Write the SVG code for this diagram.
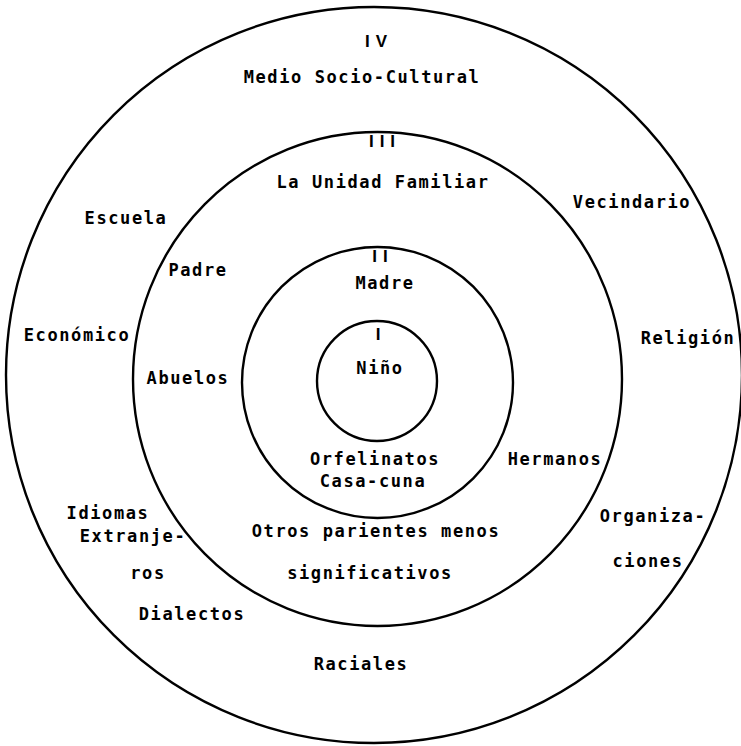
<svg xmlns="http://www.w3.org/2000/svg" width="741" height="746" viewBox="0 0 741 746">
<style>
.ring{fill:none;stroke:#000;stroke-width:2.4}
text{font-family:"DejaVu Sans Mono","Liberation Mono",monospace;font-size:17px;font-weight:bold;letter-spacing:1.6px;fill:#000;text-anchor:middle}
text.num{font-family:"Liberation Sans","DejaVu Sans",sans-serif;letter-spacing:6px}
</style>
<rect width="741" height="746" fill="#fff"/>
<g id="circles">
<ellipse id="ring-IV" class="ring" cx="374" cy="375" rx="368" ry="368"/>
<ellipse id="ring-III" class="ring" cx="377.5" cy="379" rx="244.5" ry="247"/>
<ellipse id="ring-II" class="ring" cx="377.5" cy="382.5" rx="135.5" ry="135.5"/>
<ellipse id="ring-I" class="ring" cx="377" cy="381" rx="60" ry="60"/>
</g>
<g id="level-IV">
<text class="num" x="379" y="47">IV</text>
<text x="362" y="83">Medio Socio-Cultural</text>
<text x="126" y="224">Escuela</text>
<text x="632" y="208">Vecindario</text>
<text x="77" y="341">Económico</text>
<text x="688" y="344">Religión</text>
<text x="108" y="519">Idiomas</text>
<text x="133" y="542">Extranje-</text>
<text x="148" y="579">ros</text>
<text x="653" y="522">Organiza-</text>
<text x="648" y="567">ciones</text>
<text x="192" y="620">Dialectos</text>
<text x="361" y="670">Raciales</text>
</g>
<g id="level-III">
<text class="num" x="385" y="147">III</text>
<text x="383" y="188">La Unidad Familiar</text>
<text x="198" y="276">Padre</text>
<text x="188" y="384">Abuelos</text>
<text x="555" y="465">Hermanos</text>
<text x="376" y="537">Otros parientes menos</text>
<text x="370" y="579">significativos</text>
</g>
<g id="level-II">
<text class="num" x="383" y="262">II</text>
<text x="385" y="289">Madre</text>
<text x="375" y="465">Orfelinatos</text>
<text x="373" y="487">Casa-cuna</text>
</g>
<g id="level-I">
<text class="num" x="381" y="340">I</text>
<text x="380" y="374">Niño</text>
</g>
</svg>
